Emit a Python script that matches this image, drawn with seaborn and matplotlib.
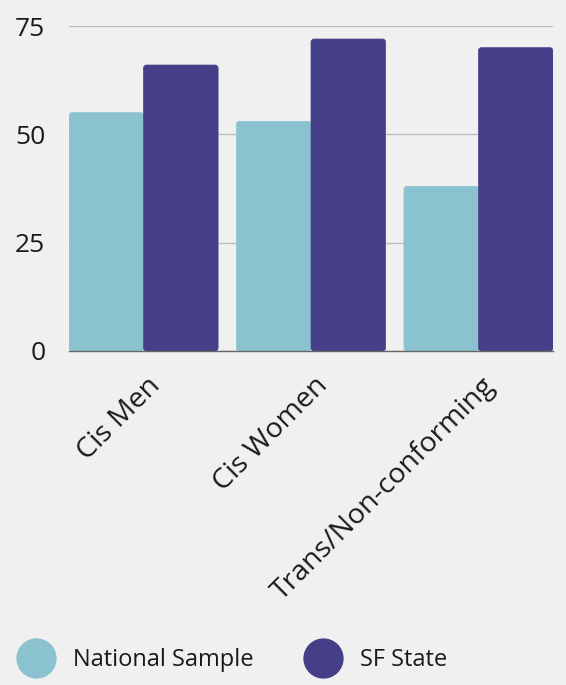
import matplotlib
matplotlib.use("Agg")
import matplotlib.pyplot as plt
import matplotlib.transforms as mtransforms
import seaborn as sns
import pandas as pd
from matplotlib.patches import FancyBboxPatch
from matplotlib.lines import Line2D

categories = ["Cis Men", "Cis Women", "Trans/Non-conforming"]
series_names = ["National Sample", "SF State"]
national = [55, 53, 38]
sf_state = [66, 72, 70]
y_ticks = [0, 25, 50, 75]

colors = ["#8ac3cf", "#453f88"]
bg = "#f0f0f0"

df = pd.DataFrame({
    "Group": categories * 2,
    "Series": [series_names[0]] * 3 + [series_names[1]] * 3,
    "Value": national + sf_state,
})

sns.set_theme(style="white")
plt.rcParams["font.family"] = ["Open Sans", "DejaVu Sans"]

fig = plt.figure(figsize=(5.66, 6.85), dpi=100, facecolor=bg)
ax = fig.add_axes([0.122, 0.4876, 0.855, 0.4744])
ax.set_facecolor(bg)

sns.barplot(data=df, x="Group", y="Value", hue="Series", palette=colors,
            width=0.89, gap=0, ax=ax, legend=False, saturation=1)

# rounded top corners
xpx = 167.5
ypx = 4.35
for p in list(ax.patches):
    x, y = p.get_x(), p.get_y()
    w, h = p.get_width(), p.get_height()
    fc = p.get_facecolor()
    p.set_visible(False)
    r = 3.0 / xpx
    fb = FancyBboxPatch((x, y), w, h,
                        boxstyle=f"round,pad=0,rounding_size={r}",
                        mutation_aspect=xpx / ypx,
                        facecolor=fc, edgecolor=fc, linewidth=0.5, zorder=3)
    ax.add_patch(fb)

ax.set_xlim(-0.445, 2.445)
ax.set_ylim(0, 75)
ax.set_yticks(y_ticks)
ax.set_yticklabels([str(t) for t in y_ticks])
ax.grid(axis="y", color="#bdbdbd", linewidth=1)
ax.set_axisbelow(True)
for s in ["top", "right", "left"]:
    ax.spines[s].set_visible(False)
ax.spines["bottom"].set_color("#666666")
ax.spines["bottom"].set_linewidth(1)
ax.spines["bottom"].set_zorder(4)
ax.tick_params(axis="both", length=0, colors="#1a1a1a")
ax.tick_params(axis="y", pad=17, labelsize=19)
ax.set_xlabel("")
ax.set_ylabel("")
ax.set_xticks(range(len(categories)))
ax.set_xticklabels(categories, rotation=45, ha="right", rotation_mode="anchor", fontsize=20.5)
offset = mtransforms.ScaledTranslation(0.03, -0.16, fig.dpi_scale_trans)
for lbl in ax.get_xticklabels():
    lbl.set_transform(lbl.get_transform() + offset)

handles = [Line2D([0], [0], marker="o", linestyle="", markersize=28,
                  markerfacecolor=c, markeredgecolor=c) for c in colors]
fig.legend(handles, series_names, loc="center left", bbox_to_anchor=(12.7 / 566, 1 - 660 / 685),
           ncol=2, frameon=False, fontsize=17, handletextpad=0.55, columnspacing=1.95,
           handlelength=2.0, borderpad=0, borderaxespad=0, labelcolor="#1a1a1a")

fig.savefig("out.png", dpi=100, facecolor=bg)
